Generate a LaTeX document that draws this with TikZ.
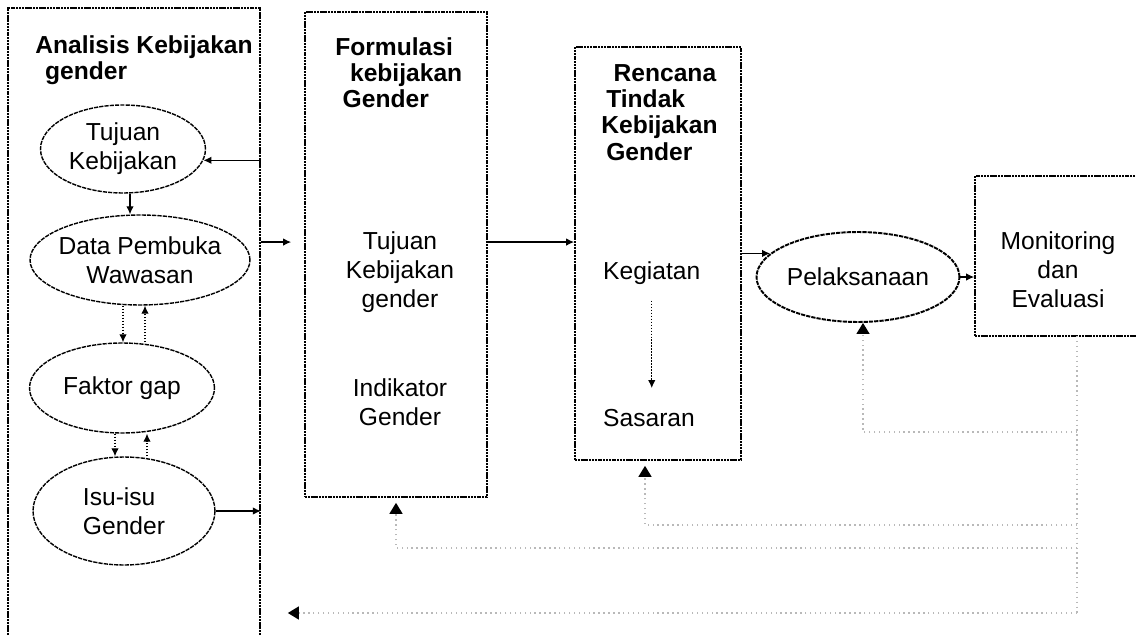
\documentclass[tikz,border=0pt]{standalone}
\usepackage{fontspec}
\setmainfont{Liberation Sans}
\usetikzlibrary{shapes.geometric,arrows.meta}
\tikzset{
	box/.style={draw, dash pattern=on 1.2pt off 0.4pt, line width=1pt, inner sep=0pt},
	ell/.style={ellipse, draw, dash pattern=on 2.4pt off 0.6pt, line width=0.8pt, inner xsep=-0.15cm, inner ysep=0pt, align=center, font=\fontsize{14}{16.5}\selectfont},
	txt/.style={align=center, font=\fontsize{14}{16.5}\selectfont},
	ttl/.style={align=left, inner sep=0pt, font=\fontsize{14}{15}\selectfont\bfseries},
	arr/.style={-{Latex[length=1.6mm,width=1.5mm]}, line width=0.7pt},
	darr/.style={arr, densely dotted},
	fb/.style={gray!55, dotted, line width=0.8pt},
	fbarr/.style={fb, -{Triangle[length=2.2mm,width=2.6mm,color=black]}, shorten >=0.1cm}
}
\begin{document}
\begin{tikzpicture}[x=0.02cm,y=-0.02cm]
		\useasboundingbox (0,0) rectangle (1136,635);
		\node[box, minimum width=5.04cm, minimum height=12.9cm] (analisis) at (134,330.5) {};
		\node[box, minimum width=3.64cm, minimum height=9.7cm] (formulasi) at (396,254.5) {};
		\node[box, minimum width=3.32cm, minimum height=8.26cm] (rencana) at (658,253.5) {};
		\node[box, minimum width=3.6cm, minimum height=3.2cm] (monev) at (1065,256) {};
		\node[ttl, anchor=north west] (jdlanalisis) at (35,35) {Analisis Kebijakan\\\hspace*{0.4em}gender};
		\node[ttl, anchor=north west] (jdlformulasi) at (335,37) {Formulasi\\\hspace*{0.6em}kebijakan\\\hspace*{0.3em}Gender};
		\node[ttl, anchor=north west] (jdlrencana) at (601,64) {\hspace*{0.5em}Rencana\\\hspace*{0.2em}Tindak\\Kebijakan\\\hspace*{0.2em}Gender};
		\node[ell, line width=0.8pt, minimum width=3.3cm, minimum height=1.76cm] (tujuan) at (123,149) {Tujuan\\Kebijakan};
		\node[ell, minimum width=4.4cm, minimum height=1.8cm] (data) at (140,260) {Data Pembuka\\Wawasan};
		\node[ell, minimum width=3.7cm, minimum height=1.8cm] (faktor) at (122,388) {Faktor gap};
		\node[ell, align=left, minimum width=3.64cm, minimum height=2.16cm] (isu) at (124,511) {Isu-isu\\Gender};
		\node[ell, line width=1.1pt, minimum width=4.06cm, minimum height=1.8cm] (pel) at (858,277) {Pelaksanaan};
		\node[txt] (tujgender) at (400,272) {Tujuan\\Kebijakan\\gender};
		\node[txt] (indikator) at (400,402) {Indikator\\Gender};
		\node[txt, anchor=west] (kegiatan) at (597,273) {Kegiatan};
		\node[txt, anchor=west] (sasaran) at (597,418) {Sasaran};
		\node[txt] (monevtxt) at (1058,270) {Monitoring\\dan\\Evaluasi};
		\draw[arr] (analisis.east |- tujuan.-8) -- (tujuan.-8);
		\draw[arr] ([xshift=0.14cm]tujuan.south) -- ([xshift=0.14cm]tujuan.south |- data.north);
		\draw[darr] ([xshift=-0.34cm]data.south) -- ([xshift=-0.34cm]data.south |- faktor.north);
		\draw[darr] ([xshift=0.46cm]faktor.north) -- ([xshift=0.46cm]faktor.north |- data.south);
		\draw[darr] ([xshift=-0.14cm]faktor.south) -- ([xshift=-0.14cm]faktor.south |- isu.north);
		\draw[darr] ([xshift=0.46cm]isu.north) -- ([xshift=0.46cm]isu.north |- faktor.south);
		\draw[arr] (isu.east) -- (analisis.east |- isu.east);
		\draw[arr, shorten >=0.26cm] (analisis.east |- data.10) -- (formulasi.west |- data.10);
		\draw[arr] (formulasi.east |- data.10) -- (rencana.west |- data.10);
		\draw[darr, shorten <=0.2cm, shorten >=0.3cm] (kegiatan.south) -- (kegiatan.south |- sasaran.north);
		\draw[arr] (rencana.east |- pel.165) -- (pel.165);
		\draw[arr] (pel.east) -- (monev.west |- pel.east);
		\coordinate (mb) at (1077,336);
		\coordinate (fb1) at (1077,432);
		\coordinate (fb2) at (1077,525);
		\coordinate (fb3) at (1077,548);
		\coordinate (fb4) at (1077,613);
		\draw[fb] (mb) -- (fb4);
		\draw[fbarr, shorten >=0pt] (fb1) -| ([xshift=0.1cm]pel.south);
		\draw[fbarr] (fb2) -| ([xshift=-0.26cm]rencana.south);
		\draw[fbarr] (fb3) -| (formulasi.south);
		\draw[fbarr] (fb4) -- ([xshift=0.44cm]analisis.east |- fb4);
	\end{tikzpicture}
\end{document}
